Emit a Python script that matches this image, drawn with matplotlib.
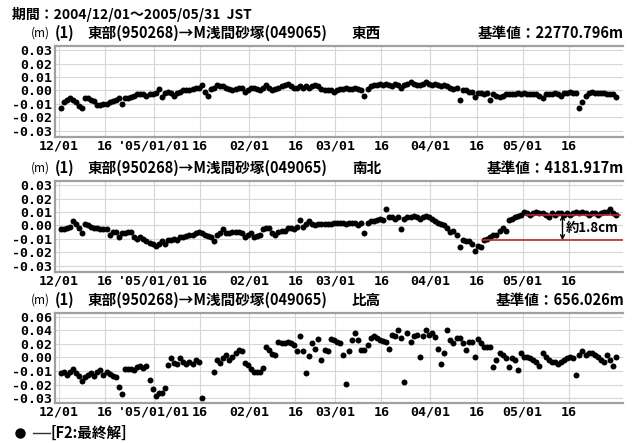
import numpy as np
import matplotlib
matplotlib.use('Agg')
import matplotlib.pyplot as plt
from matplotlib.lines import Line2D

plt.rcParams['font.family'] = ['Noto Sans CJK JP', 'DejaVu Sans']

nan = np.nan

# daily F2 solutions 2004/12/01 - 2005/05/31, values in mm
ew = [-13, -9, -7, -6, -7, -9, -12, -13, -6, -6,
      -7, -8, -11, -11, -10, -10, -9, -8, -7, -6,
      -10, -6, -6, -5, -4, -3, -3, -3, -4, -3,
      -3, -2, 1, -5, -2, -1, -2, -4, -2, -1,
      0, 0, 0, 1, 2, 2, 4, -1, -4, 1,
      2, 4, 3, 3, 2, 1, 0, 1, 2, 2,
      -1, 0, 2, 2, 1, 0, 2, 4, 2, 0,
      1, 2, 3, 4, 5, 3, 2, 2, 3, 2,
      3, 2, 3, 4, 3, 1, 0, 0, 0, -1,
      0, 1, 1, 2, 1, 1, 2, 1, 0, -4,
      1, 3, 4, 4, 5, 4, 5, 4, 3, 5,
      4, 2, 4, 5, 6, 5, 4, 4, 5, 6,
      5, 4, 5, 4, 3, 4, 3, 2, 1, 2,
      -7, 0, 0, -1, -1, -5, -2, -2, -3, -2,
      -7, -3, -4, -5, -4, -3, -3, -3, -3, -2,
      -3, -2, -3, -3, -3, -3, -4, -6, -3, -3,
      -3, -2, -3, -4, -2, -2, -1, -2, -2, -13,
      -9, -4, -2, -1, -2, -2, -2, -2, -3, -3, -3, -5]

ns = [-3, -3, -2, -1, 3, 1, -2, -6, 1, 0,
      -1, -2, -2, -3, -3, -3, -7, -5, -5, -9,
      -6, -6, -5, -5, -9, -10, -9, -10, -12, -13,
      -14, -15, -14, -12, -14, -11, -11, -10, -11, -9,
      -9, -8, -7, -7, -6, -5, -6, -7, -8, -9,
      -12, -7, -6, -3, -6, -6, -5, -5, -5, -6,
      -9, -7, -6, -9, -8, -7, -3, -2, -2, -6,
      -7, -5, -4, -4, -2, -2, -3, -1, 4, -1,
      1, 3, 1, 0, 1, 1, 1, 1, 1, 2,
      2, 2, 2, 1, 2, 2, 2, 0, 2, -6,
      2, 3, 3, 4, 5, 4, 12, 6, 6, 5,
      6, -3, 5, 6, 6, 7, 6, 5, 6, 7,
      6, 5, 3, 2, 1, 0, -2, -5, -4, -7,
      -16, -11, -12, -12, -14, -19, -15, -16, -11, -10,
      -9, -7, -7, -4, -2, -4, 4, 5, 6, 7,
      8, 10, 9, 8, 9, 10, 9, 9, 8, 6,
      9, 8, 9, 9, 8, 9, 8, 9, 10, 9,
      10, 9, 8, 9, 9, 8, 9, 10, 10, 12,
      9, 8]

up = [-23, -21, -26, -22, -17, -23, -27, -35, -28, -26,
      -23, -27, -22, -18, -26, -22, -24, -27, -29, -44,
      -54, -17, -17, -17, -18, -14, -12, -15, -13, -33,
      -47, -57, -53, -53, -45, -11, -1, -8, -10, -1,
      -6, -10, -6, -10, -4, -6, -60, nan, nan, nan,
      -22, -4, -8, -1, 4, -4, 1, 6, 11, 9,
      -8, -11, -17, -21, -22, -21, -16, 16, 11, 5,
      4, 23, 22, 21, 23, 22, 18, 9, 31, 9,
      -23, 2, 21, 13, 27, -4, 11, 9, 27, 26,
      23, 21, 4, -39, 9, 26, 36, 26, 11, 11,
      18, 28, 31, 28, 26, 24, 23, 12, 33, 31,
      40, 28, -36, 36, 23, 31, 33, 1, 31, 41,
      33, 36, 30, 13, -10, 6, 41, 26, 21, 28,
      28, 21, 11, 23, 23, 1, 27, 21, 16, 16,
      16, -14, -4, 6, 4, -1, -14, -1, -4, -18,
      6, 1, 1, -1, -4, -6, -12, 6, 1, -4,
      -6, -6, -9, -6, -4, -1, 1, -1, -26, 4,
      9, 4, 6, 6, 4, 1, -4, -6, 4, -4,
      -12, 1]

days = np.arange('2004-12-01', '2005-06-01', dtype='datetime64[D]')
t = days.astype('datetime64[h]') + np.timedelta64(12, 'h')

tick_days = np.array(['2004-12-01', '2004-12-16', '2005-01-01', '2005-01-16',
                      '2005-02-01', '2005-02-16', '2005-03-01', '2005-03-16',
                      '2005-04-01', '2005-04-16', '2005-05-01', '2005-05-16'],
                     dtype='datetime64[D]')
tick_labels = ['12/01', '16', "'05/01/01", '16', '02/01', '16',
               '03/01', '16', '04/01', '16', '05/01', '16']

series = [ew, ns, up]
components = ['東西', '南北', '比高']
base_values = ['基準値：22770.796m', '基準値：4181.917m', '基準値：656.026m']
yticks = [np.arange(-0.03, 0.031, 0.01), np.arange(-0.03, 0.031, 0.01),
          np.arange(-0.06, 0.061, 0.02)]
ytick_labels = [['-0.03', '-0.02', '-0.01', '0.00', '0.01', '0.02', '0.03'],
                ['-0.03', '-0.02', '-0.01', '0.00', '0.01', '0.02', '0.03'],
                ['-0.03', '-0.02', '-0.01', '0.00', '0.02', '0.04', '0.06']]
ylims = [(-0.0348, 0.0332), (-0.0348, 0.0332), (-0.067, 0.0655)]

# red guide lines in the 南北 panel (mm)
upper_level = 8
lower_level = -11

W, H = 634, 443
def fx(px):
    return px / W
def fy(py):
    return 1 - py / H

fig = plt.figure(figsize=(6.34, 4.43), dpi=100)

fig.text(fx(12), fy(15), '期間：2004/12/01～2005/05/31  JST', fontsize=10,
         fontweight='bold', va='center')

panel_top = [46, 181, 313]
panel_bottom = [137, 272, 403]
axes = []
for i in range(3):
    ax = fig.add_axes([fx(55), fy(panel_bottom[i]), (623 - 55) / W,
                       (panel_bottom[i] - panel_top[i]) / H])
    ax.plot(t, np.array(series[i]) / 1000, 'o', color='black',
            markersize=4.3, markeredgewidth=0)
    ax.set_xlim(np.datetime64('2004-11-29T17'), np.datetime64('2005-06-02T17'))
    ax.set_ylim(*ylims[i])
    ax.set_xticks(tick_days)
    ax.set_xticklabels(tick_labels, fontfamily='DejaVu Sans Mono', fontsize=9.5,
                       fontweight='bold')
    ax.set_yticks(yticks[i])
    ax.set_yticklabels(ytick_labels[i], fontfamily='DejaVu Sans Mono',
                       fontsize=9.5, fontweight='bold')
    ax.tick_params(length=0, pad=2)
    ax.grid(True, color='#d6d6d6', linewidth=0.8)
    ax.set_axisbelow(True)
    for s in ['left', 'top', 'bottom']:
        ax.spines[s].set_color('#a0a0a0')
        ax.spines[s].set_linewidth(1.6)
    ax.spines['right'].set_visible(False)

    hy = fy(panel_top[i] - 13)
    fig.text(fx(31), hy, '(m)', fontsize=8.5, va='center')
    fig.text(fx(55), hy, '(1)', fontsize=10.5, fontweight='bold', va='center')
    fig.text(fx(88), hy, '東部(950268)→M浅間砂塚(049065)', fontsize=10.5,
             fontweight='bold', va='center')
    fig.text(fx(352), hy, components[i], fontsize=10.5, fontweight='bold',
             va='center')
    fig.text(fx(624), hy, base_values[i], fontsize=10.5, fontweight='bold',
             va='center', ha='right')
    axes.append(ax)

ax = axes[1]
ax.plot([np.datetime64('2005-05-02'), np.datetime64('2005-06-01T20')],
        [upper_level / 1000, upper_level / 1000], color='#c0282d', linewidth=1.2)
ax.plot([np.datetime64('2005-04-18'), np.datetime64('2005-06-03')],
        [lower_level / 1000, lower_level / 1000], color='#c0282d', linewidth=1.2)
ax.annotate('', xy=(np.datetime64('2005-05-14'), upper_level / 1000),
            xytext=(np.datetime64('2005-05-14'), lower_level / 1000),
            arrowprops=dict(arrowstyle='<->', color='black', linewidth=1,
                            shrinkA=0, shrinkB=0, mutation_scale=7))
ax.text(np.datetime64('2005-05-15'), (upper_level + lower_level) / 2000 - 0.0004,
        '約1.8cm', fontsize=9.5, fontweight='bold', va='center', clip_on=False)

# legend
fig.add_artist(Line2D([fx(20)], [fy(433)], marker='o', color='black',
                      markersize=7.5, markeredgewidth=0))
fig.add_artist(Line2D([fx(33), fx(50)], [fy(433), fy(433)], color='#333333',
                      linewidth=1))
fig.text(fx(50), fy(433), '[F2:最終解]', fontsize=10.5, fontweight='bold',
         va='center')

fig.savefig('out.png', dpi=100)
